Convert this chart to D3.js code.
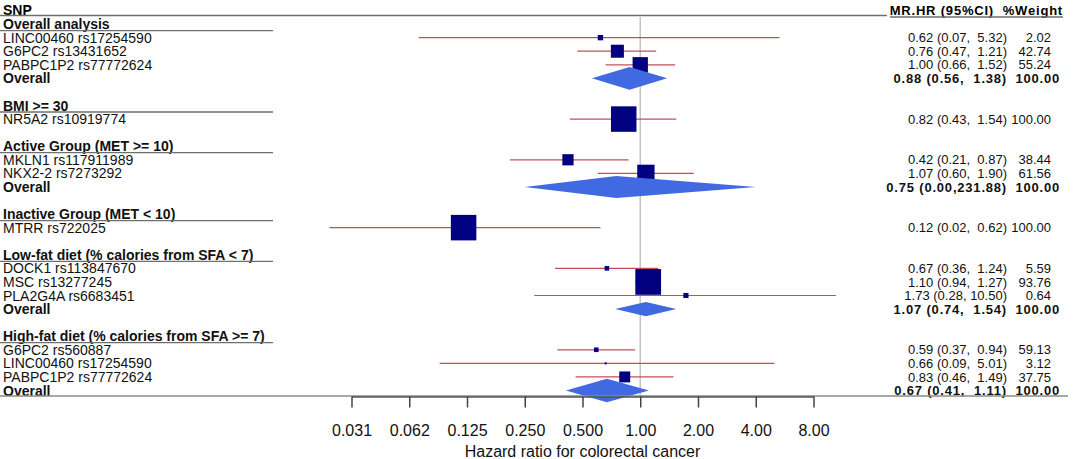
<!DOCTYPE html>
<html>
<head>
<meta charset="utf-8">
<script src="https://cdn.jsdelivr.net/npm/d3@7"></script>
<style>
  body { margin: 0; background: #fff; }
  svg { display: block; font-family: Arial, "Liberation Sans", sans-serif; }
</style>
</head>
<body>
<div id="chart"></div>
<script>
// ---------------------------------------------------------------------------
// DATA (one entry per table row under the header)
// ---------------------------------------------------------------------------
const labels = [
  "Overall analysis", "LINC00460 rs17254590", "G6PC2 rs13431652", "PABPC1P2 rs77772624", "Overall", "",
  "BMI >= 30", "NR5A2 rs10919774", "",
  "Active Group (MET >= 10)", "MKLN1 rs117911989", "NKX2-2 rs7273292", "Overall", "",
  "Inactive Group (MET < 10)", "MTRR rs722025", "",
  "Low-fat diet (% calories from SFA < 7)", "DOCK1 rs113847670", "MSC rs13277245", "PLA2G4A rs6683451", "Overall", "",
  "High-fat diet (% calories from SFA >= 7)", "G6PC2 rs560887", "LINC00460 rs17254590", "PABPC1P2 rs77772624", "Overall"
];

// group = bold underlined heading, study = square, summary = diamond
const kinds = [
  "group", "study", "study", "study", "summary", "blank",
  "group", "study", "blank",
  "group", "study", "study", "summary", "blank",
  "group", "study", "blank",
  "group", "study", "study", "study", "summary", "blank",
  "group", "study", "study", "study", "summary"
];

// hazard ratio and interval as drawn
const est = [
  null, 0.62, 0.76, 1.00, 0.88, null,
  null, 0.82, null,
  null, 0.42, 1.07, 0.75, null,
  null, 0.12, null,
  null, 0.67, 1.10, 1.73, 1.07, null,
  null, 0.59, 0.66, 0.83, 0.67
];
const lower = [
  null, 0.07, 0.47, 0.66, 0.56, null,
  null, 0.43, null,
  null, 0.21, 0.60, 0.25, null,
  null, 0.024, null,
  null, 0.36, 0.94, 0.28, 0.74, null,
  null, 0.37, 0.09, 0.46, 0.41
];
const upper = [
  null, 5.32, 1.21, 1.52, 1.38, null,
  null, 1.54, null,
  null, 0.87, 1.90, 4.0, null,
  null, 0.62, null,
  null, 1.24, 1.27, 10.50, 1.54, null,
  null, 0.94, 5.01, 1.49, 1.11
];

// relative box / diamond size
const boxWeight = [
  null, 21, 51, 60, 89, null,
  null, 100, null,
  null, 44, 68, 86, null,
  null, 100, null,
  null, 18, 101, 20, 56, null,
  null, 18, 8, 43, 93
];

// text columns as printed
const ciText = [
  "", "0.62 (0.07,  5.32)", "0.76 (0.47,  1.21)", "1.00 (0.66,  1.52)", "0.88 (0.56,  1.38)", "",
  "", "0.82 (0.43,  1.54)", "",
  "", "0.42 (0.21,  0.87)", "1.07 (0.60,  1.90)", "0.75 (0.00,231.88)", "",
  "", "0.12 (0.02,  0.62)", "",
  "", "0.67 (0.36,  1.24)", "1.10 (0.94,  1.27)", "1.73 (0.28, 10.50)", "1.07 (0.74,  1.54)", "",
  "", "0.59 (0.37,  0.94)", "0.66 (0.09,  5.01)", "0.83 (0.46,  1.49)", "0.67 (0.41,  1.11)"
];
const weightText = [
  "", "2.02", "42.74", "55.24", "100.00", "",
  "", "100.00", "",
  "", "38.44", "61.56", "100.00", "",
  "", "100.00", "",
  "", "5.59", "93.76", "0.64", "100.00", "",
  "", "59.13", "3.12", "37.75", "100.00"
];

const tickValues = [1/32, 1/16, 1/8, 1/4, 1/2, 1, 2, 4, 8];
const tickLabels = ["0.031", "0.062", "0.125", "0.250", "0.500", "1.00", "2.00", "4.00", "8.00"];

// ---------------------------------------------------------------------------
// SVG setup
// ---------------------------------------------------------------------------
const W = 1074, H = 459;
const axisY = 396.5;

const svg = d3.select("#chart")
  .append("svg")
  .attr("width", W)
  .attr("height", H);

const x = d3.scaleLog().base(2).domain([1/32, 8]).range([351.5, 813.5]);
const y = d3.scaleLinear().domain([0, labels.length]).range([10.5, 390.5]); // row 0 = header
const size = d3.scaleLinear().domain([0, 100]).range([0, 25.5]);

const rows = labels.map((label, i) => ({
  label, kind: kinds[i], est: est[i], lo: lower[i], hi: upper[i],
  w: boxWeight[i], ci: ciText[i], wt: weightText[i], row: i + 1
}));

const lineColor = "#6f6f6f";

// header
svg.append("text").attr("x", 3).attr("y", 15)
  .attr("font-size", 14).attr("font-weight", "bold").text("SNP");
svg.append("line").attr("x1", 0).attr("x2", 887).attr("y1", 15.5).attr("y2", 15.5)
  .attr("stroke", lineColor).attr("stroke-width", 1.4);

svg.append("text").attr("x", 994).attr("y", 15).attr("text-anchor", "end")
  .attr("font-size", 13).attr("font-weight", "bold").attr("letter-spacing", 0.8)
  .text("MR.HR (95%CI)");
svg.append("text").attr("x", 1063).attr("y", 15).attr("text-anchor", "end")
  .attr("font-size", 13).attr("font-weight", "bold").attr("letter-spacing", 0.8)
  .text("%Weight");
svg.append("line").attr("x1", 890).attr("x2", 1063).attr("y1", 17).attr("y2", 17)
  .attr("stroke", lineColor).attr("stroke-width", 1.4);

// left labels
svg.selectAll(".lab")
  .data(rows.filter(d => d.label))
  .join("text")
  .attr("class", "lab")
  .attr("x", 3)
  .attr("y", d => y(d.row) + 5)
  .attr("font-size", 14)
  .attr("font-weight", d => d.kind === "study" ? "normal" : "bold")
  .attr("fill", "#111")
  .text(d => d.label);

// group underlines
svg.selectAll(".gline")
  .data(rows.filter(d => d.kind === "group"))
  .join("line")
  .attr("x1", 0).attr("x2", 273)
  .attr("y1", d => y(d.row) + 6.5).attr("y2", d => y(d.row) + 6.5)
  .attr("stroke", lineColor).attr("stroke-width", 1.3);

// right columns
const dataRows = rows.filter(d => d.ci);
svg.selectAll(".ci")
  .data(dataRows)
  .join("text")
  .attr("class", "ci")
  .attr("x", 1007)
  .attr("y", d => y(d.row) + 4.6)
  .attr("text-anchor", "end")
  .attr("xml:space", "preserve")
  .style("white-space", "pre")
  .attr("font-size", 13)
  .attr("font-weight", d => d.kind === "summary" ? "bold" : "normal")
  .attr("letter-spacing", d => d.kind === "summary" ? 0.8 : 0)
  .attr("fill", "#111")
  .text(d => d.ci);

svg.selectAll(".wt")
  .data(dataRows)
  .join("text")
  .attr("class", "wt")
  .attr("x", d => d.kind === "summary" ? 1060 : 1051)
  .attr("y", d => y(d.row) + 4.6)
  .attr("text-anchor", "end")
  .attr("font-size", 13)
  .attr("font-weight", d => d.kind === "summary" ? "bold" : "normal")
  .attr("letter-spacing", d => d.kind === "summary" ? 0.8 : 0)
  .attr("fill", "#111")
  .text(d => d.wt);

// reference line at HR = 1
svg.append("line")
  .attr("x1", x(1)).attr("x2", x(1))
  .attr("y1", 17).attr("y2", axisY)
  .attr("stroke", "#c4c4c4").attr("stroke-width", 1.5);

// confidence intervals
const studies = rows.filter(d => d.kind === "study");
svg.selectAll(".cil")
  .data(studies)
  .join("line")
  .attr("x1", d => x(d.lo)).attr("x2", d => x(d.hi))
  .attr("y1", d => y(d.row)).attr("y2", d => y(d.row))
  .attr("stroke", "#c2505c").attr("stroke-width", 1.2);

// boxes
svg.selectAll(".box")
  .data(studies)
  .join("rect")
  .attr("x", d => x(d.est) - size(d.w) / 2)
  .attr("y", d => y(d.row) - size(d.w) / 2)
  .attr("width", d => size(d.w))
  .attr("height", d => size(d.w))
  .attr("fill", "#000080");

// summary diamonds
svg.selectAll(".diamond")
  .data(rows.filter(d => d.kind === "summary"))
  .join("polygon")
  .attr("points", d => {
    const cy = y(d.row), h = size(d.w) / 2;
    return [[x(d.lo), cy], [x(d.est), cy - h], [x(d.hi), cy], [x(d.est), cy + h]].join(" ");
  })
  .attr("fill", "#4169e1");

// bottom rule
svg.append("line").attr("x1", 0).attr("x2", 1068).attr("y1", 396).attr("y2", 396)
  .attr("stroke", "#8a8a8a").attr("stroke-width", 1.4);

// axis
const xAxis = svg.append("g")
  .attr("transform", `translate(0, ${axisY})`)
  .call(d3.axisBottom(x)
    .tickValues(tickValues)
    .tickFormat((d, i) => tickLabels[i])
    .tickSize(11)
    .tickSizeOuter(0)
    .tickPadding(17));
xAxis.attr("font-family", null).attr("font-size", 16);
xAxis.select(".domain").attr("stroke", "#555").attr("stroke-width", 1.5);
xAxis.selectAll(".tick line").attr("stroke", "#444").attr("stroke-width", 1.5);
xAxis.selectAll(".tick text").attr("fill", "#111");

svg.append("text")
  .attr("x", (x.range()[0] + x.range()[1]) / 2)
  .attr("y", 456.5)
  .attr("text-anchor", "middle")
  .attr("font-size", 16)
  .attr("fill", "#111")
  .text("Hazard ratio for colorectal cancer");
</script>
</body>
</html>
